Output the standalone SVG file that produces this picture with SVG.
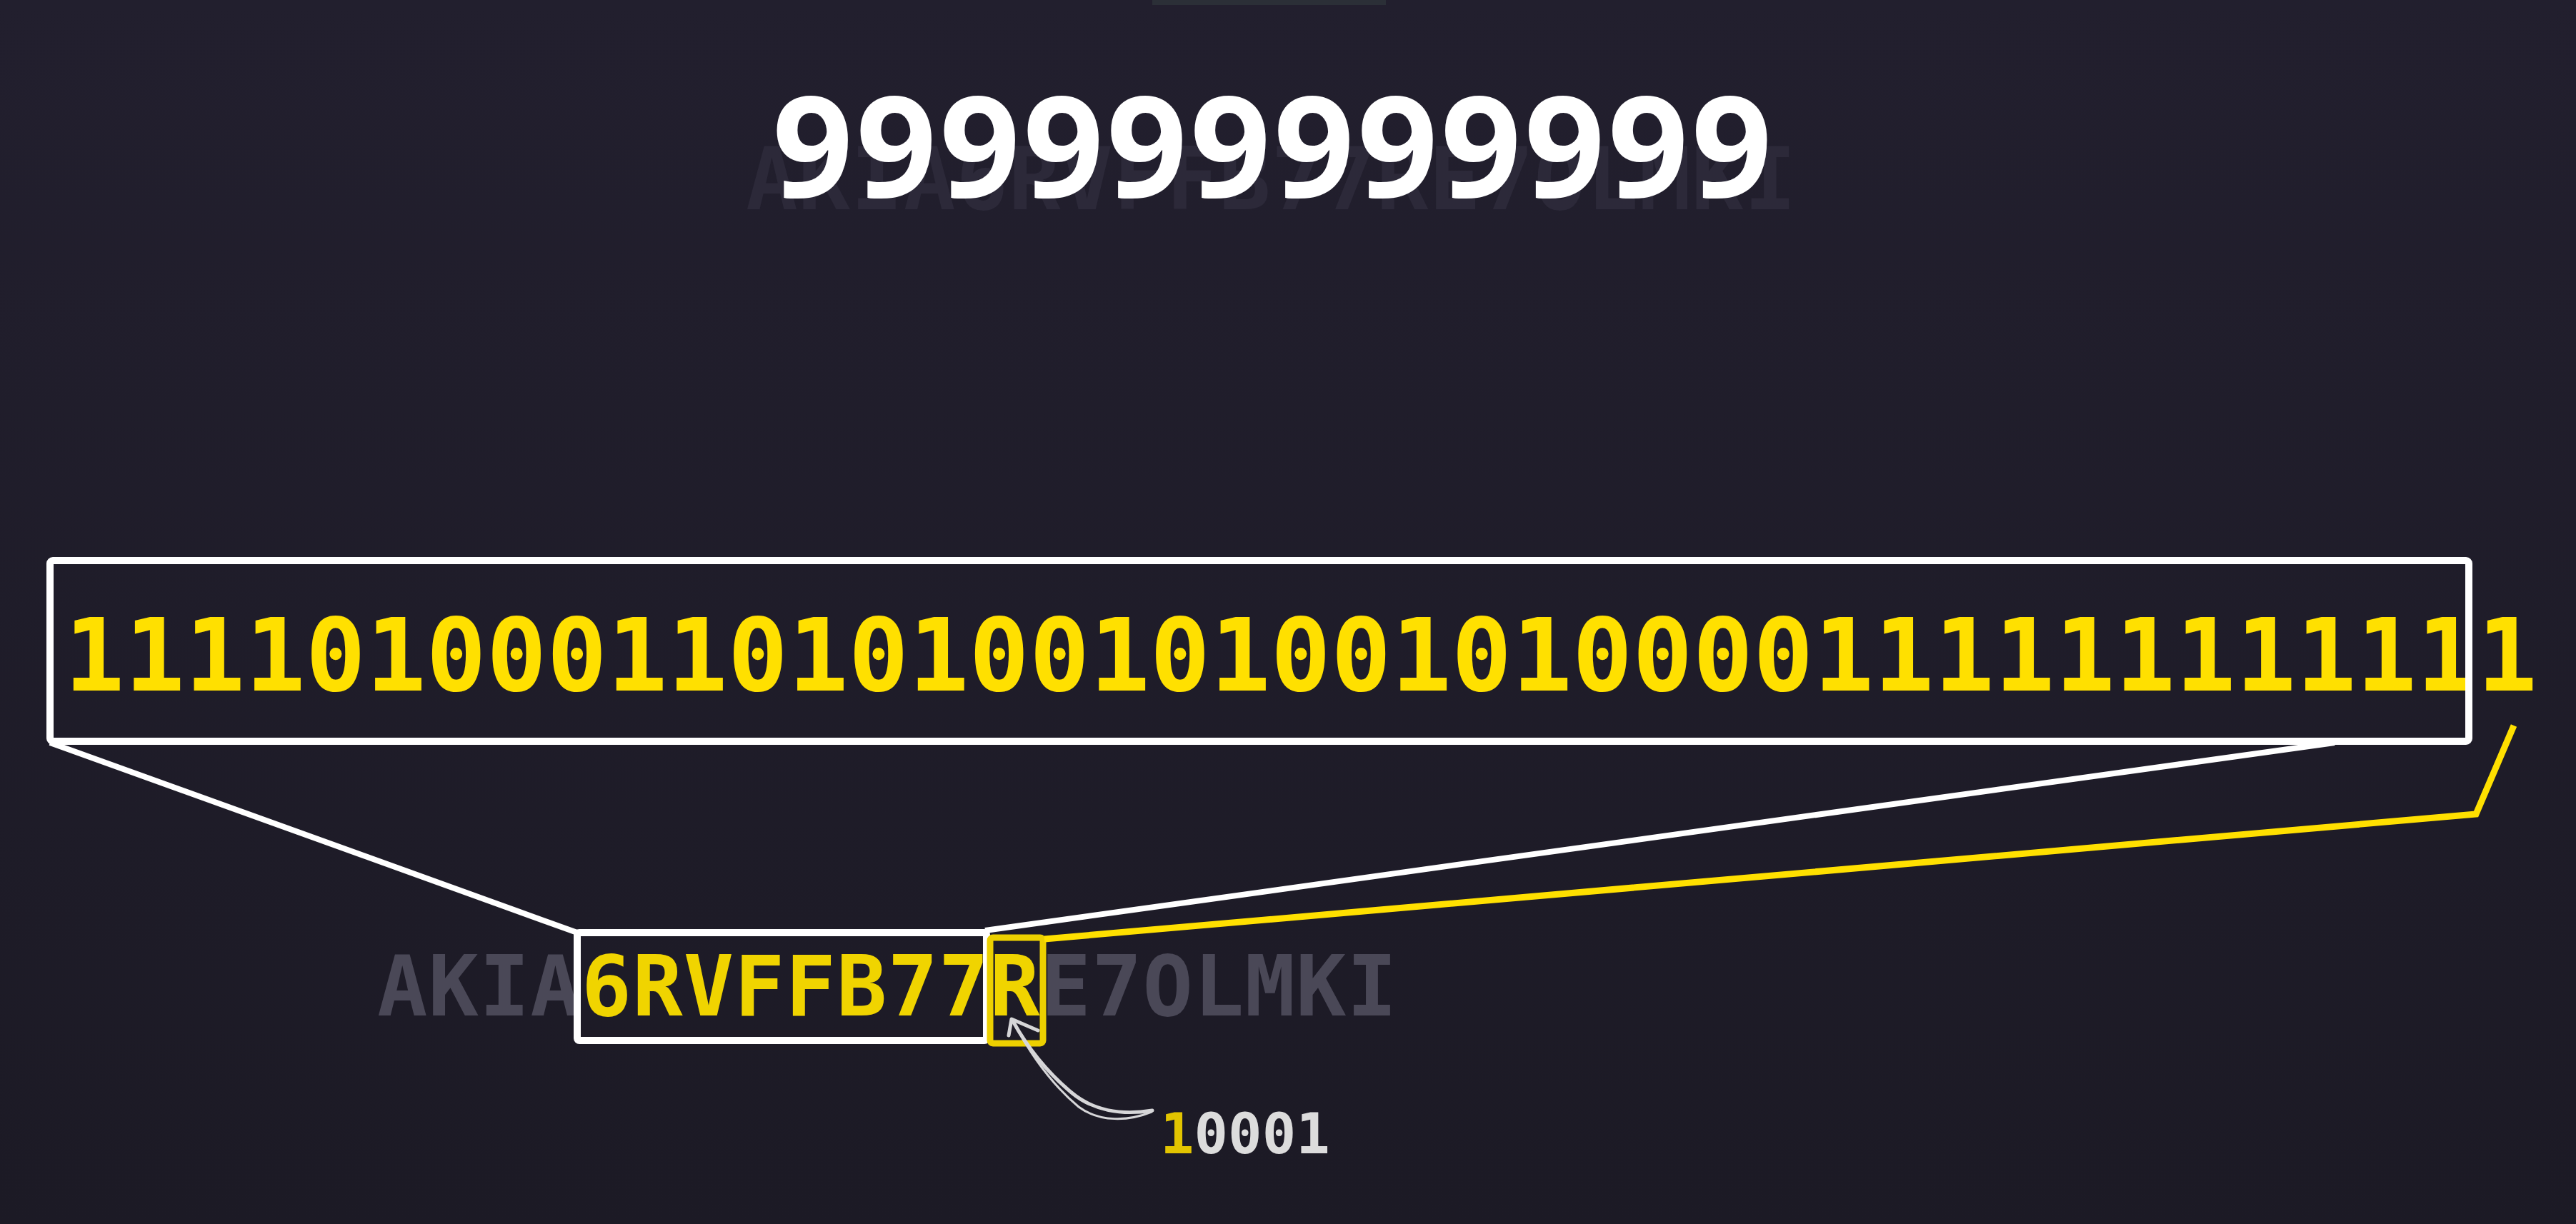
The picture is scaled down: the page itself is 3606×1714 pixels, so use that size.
<svg xmlns="http://www.w3.org/2000/svg" width="3606" height="1714" viewBox="0 0 3606 1714">
<defs>
<linearGradient id="bg" x1="0" y1="0" x2="0" y2="1">
<stop offset="0" stop-color="#221f2e"/>
<stop offset="1" stop-color="#1c1a25"/>
</linearGradient>
</defs>
<style>
.mono{font-family:"DejaVu Sans Mono","Liberation Mono",monospace;font-weight:bold}
.big{font-family:"Open Sans","Noto Sans",sans-serif;font-weight:bold}
.wbox{fill:none;stroke:#ffffff;stroke-width:10;stroke-linejoin:round}
.wline{fill:none;stroke:#ffffff;stroke-width:8;stroke-linecap:butt}
.yline{fill:none;stroke:#ffe000;stroke-width:9;stroke-linejoin:miter}
.ybox{fill:none;stroke:#ecd000;stroke-width:9;stroke-linejoin:round}
.gray{fill:#4a4857}
.yel{fill:#f0d400}
.arrow{fill:none;stroke:#d6d6d8;stroke-linecap:round;stroke-linejoin:round}
</style>
<rect width="3606" height="1714" fill="url(#bg)"/>
<rect x="1613" y="0" width="327" height="7" fill="#2b2f37"/>
<g id="ghost">
<text class="mono" x="1044" y="293" font-size="121" fill="#2c2939" letter-spacing="0.7">AKIA6RVFFB77RE7OLMKI</text>
</g>
<g id="nines">
<text class="big" x="1783" y="276" font-size="197" fill="#ffffff" text-anchor="middle" letter-spacing="4.3">999999999999</text>
</g>
<g id="binary">
<text class="mono" x="90" y="967" font-size="140" fill="#ffe000" letter-spacing="0.15">11110100011010100101001010000111111111111</text>
<rect class="wbox" x="70" y="785" width="3386" height="253" rx="4"/>
</g>
<g id="key">
<text class="mono" x="528" y="1422" font-size="117" letter-spacing="1"><tspan class="gray">AKIA</tspan><tspan class="yel">6RVFFB77R</tspan><tspan class="gray">E7OLMKI</tspan></text>
<rect class="wbox" x="808" y="1306" width="573" height="151" rx="3"/>
<rect class="ybox" x="1386" y="1313" width="74" height="148" rx="4"/>
</g>
<g id="bits">
<text class="mono" x="1624" y="1615" font-size="79"><tspan fill="#e2c400">1</tspan><tspan fill="#dcdcdc">0001</tspan></text>
</g>
<g id="connectors">
<line class="wline" x1="70" y1="1040" x2="808" y2="1306"/>
<line class="wline" x1="3268" y1="1040" x2="1379" y2="1303"/>
<polyline class="yline" points="1462,1315 3466,1140 3519,1016"/>
<path class="arrow" stroke-width="5" d="M1613,1555 C1570,1562 1530,1555 1500,1530 C1470,1505 1440,1470 1418,1430"/>
<path class="arrow" stroke-width="3" d="M1612,1557 C1580,1570 1540,1572 1510,1550 C1480,1525 1450,1490 1420,1434"/>
<path class="arrow" stroke-width="5" d="M1453,1443 L1416,1427 L1412,1450"/>
</g>
</svg>
